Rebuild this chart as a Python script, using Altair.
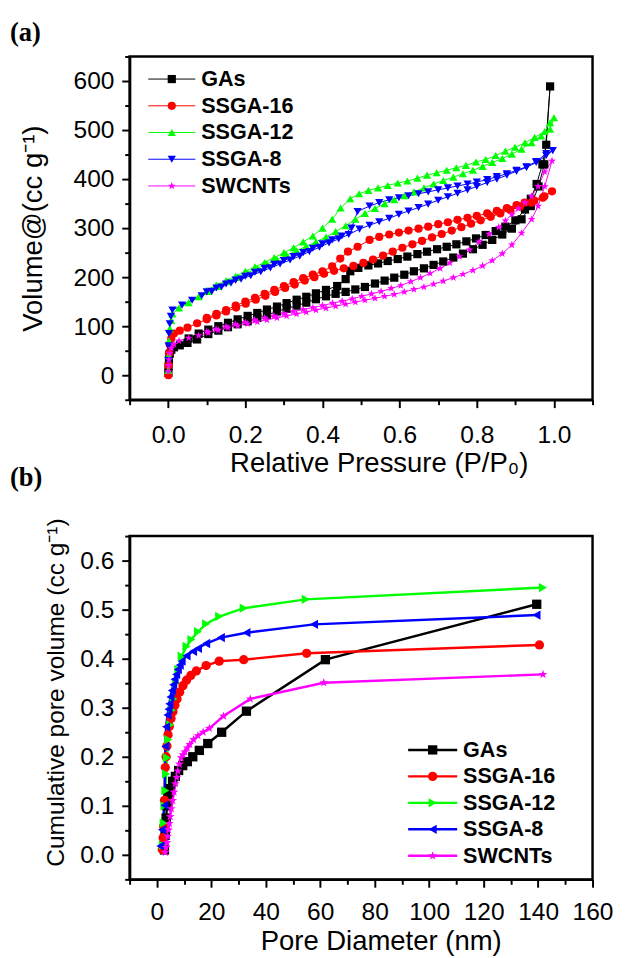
import altair as alt
import pandas as pd

SERIES = ["GAs", "SSGA-16", "SSGA-12", "SSGA-8", "SWCNTs"]
COLORS = ["#000000", "#ff0000", "#00ff00", "#0000ff", "#ff00ff"]
STAR = "M0,-1L0.235,-0.324L0.951,-0.309L0.38,0.124L0.588,0.809L0,0.4L-0.588,0.809L-0.38,0.124L-0.951,-0.309L-0.235,-0.324Z"
SHAPES_A = ["square", "circle", "triangle-up", "triangle-down", STAR]
SHAPES_B = ["square", "circle", "triangle-right", "triangle-left", STAR]

# ---------------- panel (a): N2 isotherms (adsorption then desorption) -------------
gas_ads_p = [0.0005, 0.001, 0.002, 0.004, 0.008, 0.015, 0.03, 0.05, 0.075, 0.104, 0.13, 0.155, 0.18, 0.206, 0.231, 0.256, 0.282, 0.307, 0.333, 0.358, 0.383, 0.409, 0.434, 0.46, 0.485, 0.51, 0.536, 0.561, 0.586, 0.612, 0.637, 0.663, 0.688, 0.713, 0.739, 0.764, 0.79, 0.815, 0.84, 0.866, 0.891, 0.916, 0.94, 0.96, 0.975, 0.99]
gas_ads_v = [5, 18, 32, 44, 52, 57, 61, 66, 73, 84, 91, 98, 104, 110, 117, 123, 130, 136, 142, 148, 155, 161, 166, 170, 175, 180, 187, 193, 199, 205, 212, 218, 225, 232, 240, 248, 257, 266, 276, 287, 299, 318, 345, 385, 430, 589]
gas_des_p = [0.98, 0.97, 0.955, 0.94, 0.925, 0.9, 0.874, 0.849, 0.823, 0.798, 0.773, 0.747, 0.722, 0.697, 0.671, 0.646, 0.62, 0.595, 0.569, 0.544, 0.519, 0.493, 0.472, 0.46, 0.438, 0.409, 0.383, 0.358, 0.333, 0.307, 0.282, 0.256, 0.231, 0.206, 0.18, 0.155, 0.13, 0.104, 0.079, 0.053]
gas_des_v = [470, 430, 390, 360, 338, 316, 303, 294, 286, 279, 273, 267, 262, 257, 252, 247, 242, 237, 233, 228, 224, 219, 212, 196, 182, 174, 167, 160, 154, 147, 140, 134, 127, 121, 114, 107, 100, 93, 85, 75]

s16_ads_p = [0.0005, 0.001, 0.002, 0.004, 0.008, 0.015, 0.03, 0.05, 0.075, 0.1, 0.125, 0.15, 0.176, 0.201, 0.227, 0.252, 0.277, 0.303, 0.328, 0.354, 0.379, 0.404, 0.43, 0.455, 0.48, 0.506, 0.531, 0.557, 0.582, 0.607, 0.633, 0.658, 0.684, 0.709, 0.735, 0.76, 0.785, 0.81, 0.836, 0.861, 0.887, 0.912, 0.942, 0.971, 0.995]
s16_ads_v = [0, 20, 45, 62, 75, 85, 91, 97, 106, 114, 122, 130, 138, 146, 154, 162, 170, 178, 185, 193, 200, 207, 213, 218, 223, 229, 236, 244, 252, 260, 267, 274, 281, 288, 295, 302, 309, 316, 323, 330, 337, 344, 352, 362, 375]
s16_des_p = [0.975, 0.949, 0.924, 0.903, 0.878, 0.852, 0.827, 0.8, 0.776, 0.75, 0.725, 0.7, 0.674, 0.649, 0.623, 0.598, 0.573, 0.547, 0.522, 0.491, 0.466, 0.446, 0.425, 0.4, 0.375, 0.35, 0.325, 0.3, 0.275, 0.25, 0.225, 0.2, 0.175, 0.15, 0.125, 0.1]
s16_des_v = [365, 356, 352, 347, 341, 335, 330, 325, 321, 317, 312, 308, 303, 299, 295, 291, 287, 282, 276, 262, 252, 238, 222, 212, 205, 198, 190, 182, 174, 166, 158, 150, 142, 133, 125, 117]

s12_ads_p = [0.0005, 0.001, 0.002, 0.004, 0.008, 0.011, 0.028, 0.053, 0.079, 0.104, 0.13, 0.155, 0.18, 0.206, 0.231, 0.256, 0.282, 0.307, 0.333, 0.358, 0.383, 0.409, 0.434, 0.46, 0.485, 0.51, 0.536, 0.561, 0.586, 0.612, 0.637, 0.663, 0.688, 0.713, 0.739, 0.764, 0.79, 0.815, 0.84, 0.866, 0.891, 0.916, 0.942, 0.967, 0.99, 1.0]
s12_ads_v = [10, 40, 70, 95, 112, 125, 137, 148, 160, 171, 181, 191, 200, 209, 218, 227, 236, 245, 254, 263, 272, 282, 293, 305, 318, 330, 340, 350, 358, 366, 374, 382, 390, 397, 404, 411, 418, 426, 434, 442, 451, 461, 474, 488, 502, 525]
s12_des_p = [0.99, 0.976, 0.95, 0.925, 0.899, 0.874, 0.849, 0.823, 0.798, 0.772, 0.747, 0.722, 0.696, 0.671, 0.646, 0.62, 0.595, 0.569, 0.544, 0.519, 0.495, 0.472, 0.447, 0.425, 0.4, 0.375, 0.35, 0.325, 0.3, 0.275, 0.25, 0.225, 0.2, 0.175, 0.15, 0.125, 0.1]
s12_des_v = [515, 497, 485, 474, 465, 457, 448, 440, 435, 428, 423, 418, 413, 408, 402, 396, 392, 387, 382, 377, 370, 360, 341, 318, 300, 284, 272, 260, 250, 240, 230, 221, 212, 202, 193, 184, 173]

s8_ads_p = [0.0005, 0.001, 0.002, 0.004, 0.007, 0.011, 0.036, 0.062, 0.087, 0.113, 0.138, 0.163, 0.189, 0.214, 0.24, 0.265, 0.29, 0.316, 0.341, 0.366, 0.392, 0.417, 0.442, 0.468, 0.496, 0.522, 0.547, 0.573, 0.598, 0.623, 0.649, 0.674, 0.7, 0.725, 0.75, 0.776, 0.8, 0.827, 0.852, 0.878, 0.903, 0.929, 0.954, 0.98, 0.997]
s8_ads_v = [30, 60, 85, 105, 120, 133, 143, 153, 162, 171, 180, 188, 196, 203, 211, 219, 227, 235, 243, 252, 261, 270, 278, 287, 298, 306, 313, 320, 328, 335, 342, 349, 357, 364, 371, 378, 385, 393, 400, 408, 416, 424, 434, 448, 458]
s8_des_p = [0.98, 0.954, 0.929, 0.903, 0.878, 0.852, 0.827, 0.8, 0.776, 0.75, 0.725, 0.7, 0.674, 0.649, 0.623, 0.598, 0.573, 0.547, 0.522, 0.491, 0.475, 0.45, 0.425, 0.4, 0.375, 0.35, 0.325, 0.3, 0.275, 0.25, 0.225, 0.2, 0.175, 0.15, 0.125, 0.1]
s8_des_v = [452, 436, 425, 418, 411, 405, 399, 394, 390, 386, 382, 378, 374, 370, 366, 362, 358, 352, 345, 334, 300, 284, 276, 268, 259, 250, 242, 234, 226, 218, 210, 202, 194, 186, 178, 170]

sw_ads_p = [0.0005, 0.001, 0.002, 0.004, 0.008, 0.015, 0.028, 0.053, 0.079, 0.104, 0.13, 0.155, 0.18, 0.206, 0.231, 0.256, 0.282, 0.307, 0.333, 0.358, 0.383, 0.409, 0.434, 0.46, 0.485, 0.51, 0.536, 0.561, 0.586, 0.612, 0.637, 0.663, 0.688, 0.713, 0.739, 0.764, 0.79, 0.815, 0.84, 0.866, 0.891, 0.916, 0.942, 0.959, 0.976, 0.995]
sw_ads_v = [8, 20, 32, 45, 55, 63, 70, 76, 81, 87, 92, 97, 101, 105, 109, 113, 117, 121, 125, 129, 133, 137, 141, 145, 149, 153, 157, 161, 165, 170, 175, 180, 186, 192, 199, 206, 214, 223, 234, 248, 266, 290, 318, 345, 385, 437]
sw_des_p = [0.976, 0.959, 0.942, 0.925, 0.908, 0.891, 0.874, 0.857, 0.832, 0.806, 0.781, 0.755, 0.73, 0.705, 0.679, 0.654, 0.629, 0.603, 0.578, 0.552, 0.527, 0.502, 0.477, 0.451, 0.426, 0.4, 0.375, 0.35, 0.324, 0.3, 0.274, 0.25, 0.224, 0.2, 0.174, 0.15, 0.124, 0.1]
sw_des_v = [415, 385, 365, 352, 340, 328, 315, 302, 288, 272, 256, 242, 229, 218, 208, 199, 191, 183, 177, 171, 166, 161, 156, 151, 147, 142, 138, 134, 130, 126, 121, 117, 113, 108, 104, 99, 94, 89]

# ---------------- panel (b): cumulative pore volume ---------------------------------
gas_d = [2.8, 3.1, 3.4, 3.7, 4.2, 4.9, 5.8, 6.8, 8.0, 9.5, 11.2, 13.2, 15.6, 18.7, 23.8, 32.9, 61.9, 139.5]
gas_c = [0.01, 0.04, 0.075, 0.1, 0.12, 0.135, 0.15, 0.16, 0.172, 0.182, 0.19, 0.2, 0.213, 0.227, 0.25, 0.293, 0.398, 0.511]
s16_d = [2.0, 2.3, 2.5, 2.8, 3.1, 3.4, 3.7, 4.1, 4.6, 5.2, 5.9, 6.6, 7.4, 8.4, 9.6, 10.9, 12.5, 14.5, 18.1, 22.9, 31.9, 55.0, 140.5]
s16_c = [0.011, 0.035, 0.058, 0.111, 0.178, 0.2, 0.222, 0.245, 0.262, 0.278, 0.292, 0.305, 0.318, 0.332, 0.345, 0.356, 0.366, 0.375, 0.386, 0.395, 0.398, 0.411, 0.428]
s12_d = [2.2, 2.5, 2.8, 3.1, 3.4, 3.7, 4.2, 4.9, 5.5, 6.1, 7.0, 7.9, 9.1, 10.9, 12.7, 15.1, 18.1, 22.9, 31.9, 54.7, 141.8]
s12_c = [0.02, 0.065, 0.1, 0.131, 0.165, 0.198, 0.235, 0.265, 0.295, 0.318, 0.35, 0.378, 0.405, 0.425, 0.439, 0.455, 0.471, 0.486, 0.503, 0.521, 0.545]
s8_d = [1.3, 1.9, 2.8, 3.1, 3.4, 3.9, 4.3, 4.6, 5.0, 5.5, 6.0, 6.5, 7.1, 7.7, 8.4, 9.1, 10.9, 13.3, 15.1, 18.1, 23.5, 32.9, 57.7, 139.4]
s8_c = [0.018, 0.051, 0.101, 0.221, 0.261, 0.285, 0.297, 0.308, 0.322, 0.335, 0.347, 0.358, 0.368, 0.378, 0.387, 0.395, 0.406, 0.415, 0.421, 0.431, 0.443, 0.453, 0.47, 0.489]
sw_d = [3.1, 3.4, 3.7, 4.0, 4.3, 4.6, 4.9, 5.3, 5.8, 6.3, 6.8, 7.3, 7.7, 8.3, 8.9, 9.6, 10.3, 11.2, 12.1, 13.5, 15.1, 17.0, 19.3, 24.5, 34.3, 61.3, 141.8]
sw_c = [0.005, 0.015, 0.025, 0.038, 0.051, 0.064, 0.078, 0.094, 0.111, 0.128, 0.145, 0.158, 0.171, 0.185, 0.198, 0.204, 0.21, 0.218, 0.225, 0.235, 0.243, 0.25, 0.258, 0.283, 0.318, 0.351, 0.368]

A_TICKS_X = [round(-0.1 + 0.1 * i, 1) for i in range(13)]
A_TICKS_Y = list(range(-50, 651, 50))
B_TICKS_X = list(range(-10, 161, 10))
B_TICKS_Y = [round(-0.05 + 0.05 * i, 2) for i in range(15)]

FONT = "Liberation Sans"

iso = [
    (gas_ads_p + gas_des_p, gas_ads_v + gas_des_v),
    (s16_ads_p + s16_des_p, s16_ads_v + s16_des_v),
    (s12_ads_p + s12_des_p, s12_ads_v + s12_des_v),
    (s8_ads_p + s8_des_p, s8_ads_v + s8_des_v),
    (sw_ads_p + sw_des_p, sw_ads_v + sw_des_v),
]
rows = []
for name, (ps, vs) in zip(SERIES, iso):
    for i, (p, v) in enumerate(zip(ps, vs)):
        rows.append({"series": name, "P": p, "V": v, "idx": i})
df_a = pd.DataFrame(rows)

pv = [(gas_d, gas_c), (s16_d, s16_c), (s12_d, s12_c), (s8_d, s8_c), (sw_d, sw_c)]
rows = []
for name, (ds, cs) in zip(SERIES, pv):
    for i, (d, c) in enumerate(zip(ds, cs)):
        rows.append({"series": name, "D": d, "C": c, "idx": i})
df_b = pd.DataFrame(rows)

df_leg = pd.DataFrame({"series": SERIES, "row": list(range(len(SERIES)))})

color = alt.Color("series:N", scale=alt.Scale(domain=SERIES, range=COLORS), legend=None)


def panel(df, xf, yf, xdom, ydom, xaxis, yaxis, shapes, lw, msize,
          leg_range, leg_x, label, label_y):
    x = alt.X(f"{xf}:Q", scale=alt.Scale(domain=xdom, nice=False, zero=False), axis=xaxis)
    y = alt.Y(f"{yf}:Q", scale=alt.Scale(domain=ydom, nice=False, zero=False), axis=yaxis)
    shape = alt.Shape("series:N", scale=alt.Scale(domain=SERIES, range=shapes), legend=None)
    base = alt.Chart(df)
    lines = base.mark_line(strokeWidth=lw).encode(x=x, y=y, color=color, order=alt.Order("idx:Q"))
    pts = base.mark_point(filled=True, size=msize, opacity=1).encode(x=x, y=y, color=color, shape=shape)
    main = alt.layer(lines, pts)

    ly = alt.Y("row:Q", scale=alt.Scale(domain=[0, 4], range=leg_range), axis=None)
    lb = alt.Chart(df_leg)
    l_rule = lb.mark_rule(strokeWidth=lw).encode(
        x=alt.value(leg_x[0]), x2=alt.value(leg_x[1]), y=ly, color=color)
    l_pt = lb.mark_point(filled=True, size=msize, opacity=1).encode(
        x=alt.value((leg_x[0] + leg_x[1]) / 2), y=ly, color=color, shape=shape)
    l_txt = lb.mark_text(align="left", baseline="middle", font=FONT, fontWeight="bold",
                         fontSize=22, color="black").encode(
        x=alt.value(leg_x[1] + 6), y=ly, text="series:N")
    lab = alt.Chart(pd.DataFrame({"t": [label]})).mark_text(
        align="left", baseline="middle", font="Liberation Serif", fontWeight="bold",
        fontSize=27, color="black").encode(x=alt.value(-122), y=alt.value(label_y), text="t:N")
    leg = alt.layer(l_rule, l_pt, l_txt, lab)
    return alt.layer(main, leg).resolve_scale(y="independent").properties(width=472, height=350)


def ax(values, major_test, label_expr, title, lpad, tpad, tsize, **kw):
    return alt.Axis(values=values, labelExpr=label_expr,
                    tickSize={"condition": {"test": major_test, "value": 8}, "value": 5},
                    title=title, labelPadding=lpad, titlePadding=tpad, titleFontSize=tsize,
                    labelOverlap=False, labelFlush=False, **kw)


xa = ax(A_TICKS_X, "abs(round(datum.value*10)) % 2 == 0",
        "abs(round(datum.value*10)) % 2 == 0 ? format(datum.value, '.1f') : ''",
        "Relative Pressure (P/P\u2080)", 16, 2, 28, titleX=254)
ya = ax(A_TICKS_Y, "datum.value % 100 == 0",
        "datum.value % 100 == 0 ? format(datum.value, 'd') : ''",
        "Volume@(cc g\u207b\u00b9)", 8, 26, 28)
xb = ax(B_TICKS_X, "datum.value % 20 == 0",
        "datum.value % 20 == 0 ? format(datum.value, 'd') : ''",
        "Pore Diameter (nm)", 13, 4, 28, titleX=256)
yb = ax(B_TICKS_Y, "round(datum.value*100) % 10 == 0",
        "round(datum.value*100) % 10 == 0 ? format(datum.value, '.1f') : ''",
        "Cumulative pore volume (cc g\u207b\u00b9)", 8, 12, 25, titleY=159)

pa = panel(df_a, "P", "V", [-0.1, 1.1], [-50, 650], xa, ya, SHAPES_A, 1, 70,
           [23, 132], [19, 67], "(a)", -24)
pb = panel(df_b, "D", "C", [-10, 160], [-0.05, 0.65], xb, yb, SHAPES_B, 2.5, 90,
           [218, 326], [284, 334], "(b)", -59)

chart = alt.vconcat(pa, pb, spacing=139, bounds="flush").resolve_scale(
    shape="independent"
).properties(
    padding={"left": 0, "top": 0, "right": 5, "bottom": 5}
).configure_view(
    stroke="black", strokeWidth=2.5
).configure_axis(
    domainColor="black", domainWidth=2.5, tickColor="black", tickWidth=2,
    labelFont=FONT, labelFontSize=25, labelColor="black",
    titleFont=FONT, titleFontWeight="normal", titleColor="black",
    grid=False
)

chart.save("out.html", embed_options={"renderer": "svg", "actions": False})
